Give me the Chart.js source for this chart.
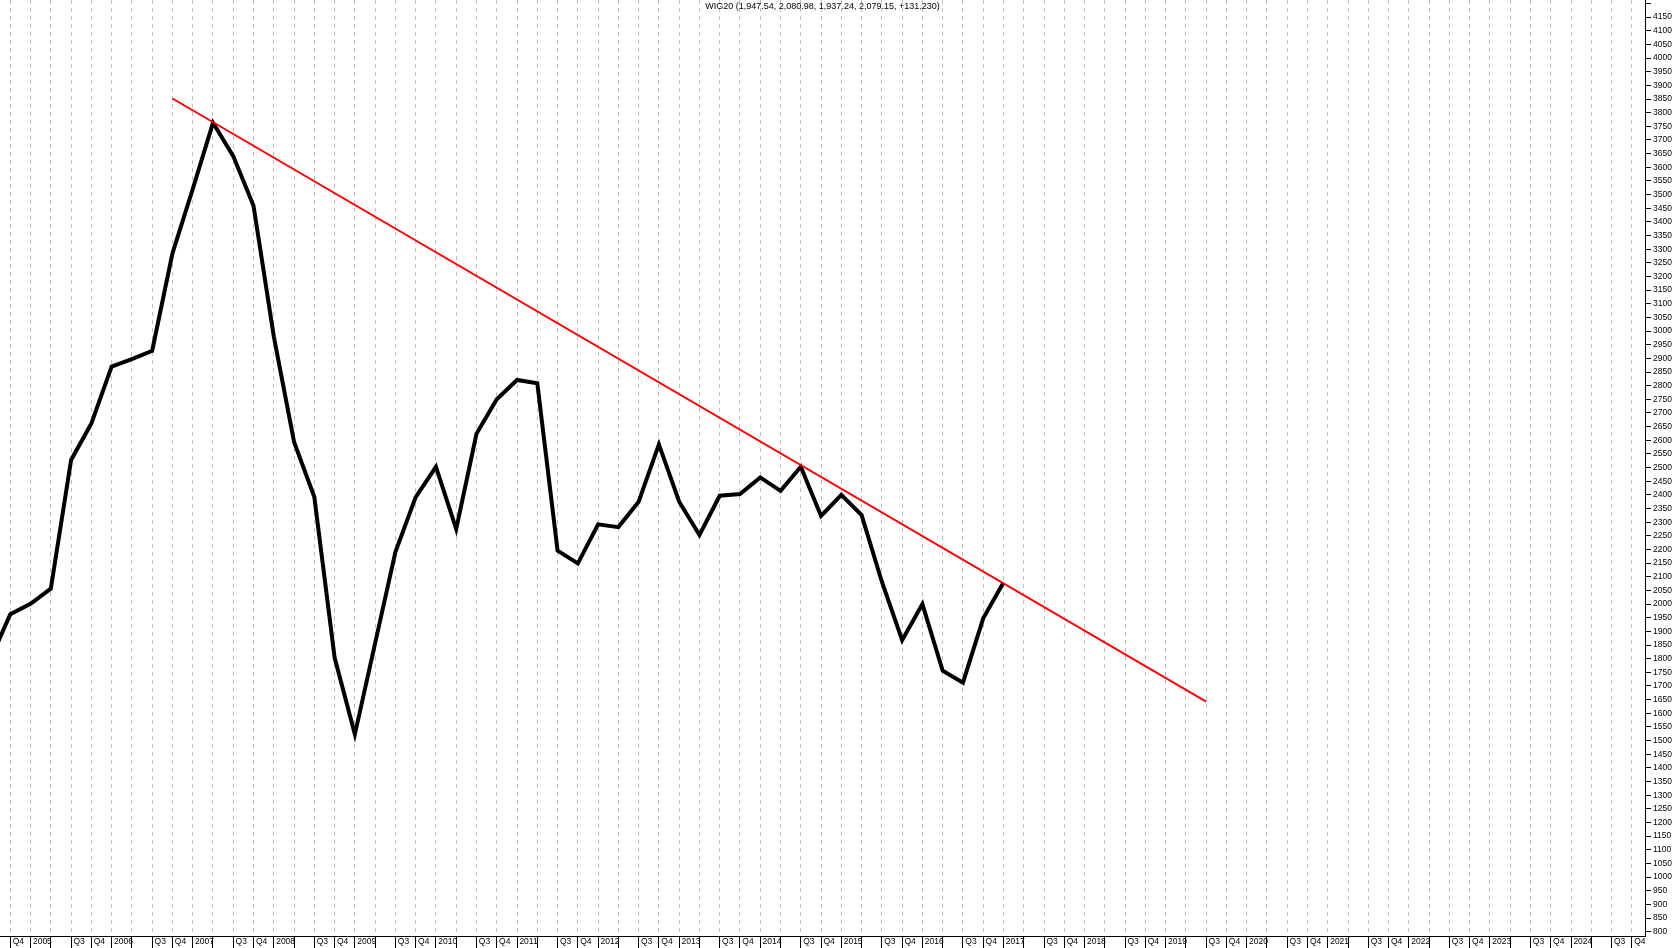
<!DOCTYPE html>
<html>
<head>
<meta charset="utf-8">
<script src="https://cdn.jsdelivr.net/npm/chart.js@4.4.1/dist/chart.umd.min.js"></script>
<style>
  html, body { margin: 0; padding: 0; background: #fff; }
  #wrap { position: relative; width: 1680px; height: 948px; }
  #chart { display: block; }
  #title {
    position: absolute; top: 1px; left: 0; width: 1645px;
    text-align: center; font: 9px "Liberation Sans", Arial, sans-serif;
    line-height: 10px; color: #000; pointer-events: none;
  }
</style>
</head>
<body>
<div id="wrap">
  <canvas id="chart" width="1680" height="948"></canvas>
  <div id="title">WIG20 (1,947.54, 2,080.98, 1,937.24, 2,079.15, +131.230)</div>
</div>
<script>
// ========== Data ==========
// quarter index 0 = Q4 2004 tick, 1 = 2005 tick, ... one step per quarter
const FIRST_QUARTER = -1;
const closes = [
  1795, 1963, 2001, 2057, 2528, 2662, 2870, 2897, 2928, 3285,
  3520, 3763, 3641, 3459, 2981, 2594, 2392, 1804, 1523, 1857,
  2191, 2392, 2503, 2275, 2624, 2750, 2821, 2809, 2196, 2149,
  2292, 2282, 2375, 2585, 2375, 2253, 2397, 2403, 2464, 2415,
  2503, 2323, 2400, 2326, 2082, 1868, 2000, 1756, 1712, 1948,
  2079
];
const trendQuarters = [8, 59];
const trendValues = [3852, 1643];

const years = [2005, 2006, 2007, 2008, 2009, 2010, 2011, 2012, 2013, 2014,
               2015, 2016, 2017, 2018, 2019, 2020, 2021, 2022, 2023, 2024];
const quarterMarks = ['Q4', 'YEAR', '', 'Q3']; // pattern repeating every 4 ticks
const yLabelMin = 800;
const yLabelMax = 4150;

// ========== Helpers ==========
function xLabel(k) {
  const mark = quarterMarks[((k % 4) + 4) % 4];
  if (mark === 'YEAR') {
    const y = years[(k - 1) / 4];
    return y ? ' ' + y : '';
  }
  return mark ? ' ' + mark : '';
}

const closePoints = closes.map((v, i) => ({ x: FIRST_QUARTER + i, y: v }));
const trendPoints = trendQuarters.map((q, i) => ({ x: q, y: trendValues[i] }));

const tickFont = { family: '"Liberation Sans", Arial, sans-serif', size: 8.5 };

new Chart(document.getElementById('chart').getContext('2d'), {
  type: 'line',
  data: {
    datasets: [
      {
        data: trendPoints,
        borderColor: '#ff0000',
        borderWidth: 2,
        pointRadius: 0,
        tension: 0
      },
      {
        data: closePoints,
        borderColor: '#000000',
        borderWidth: 4,
        pointRadius: 0,
        tension: 0
      }
    ]
  },
  options: {
    responsive: false,
    animation: false,
    devicePixelRatio: 1,
    layout: { padding: 0 },
    plugins: {
      legend: { display: false },
      tooltip: { enabled: false },
      title: { display: false }
    },
    scales: {
      x: {
        type: 'linear',
        position: 'bottom',
        min: -0.508,
        max: 80.65,
        grid: {
          color: '#c0c0c0',
          lineWidth: 1,
          tickColor: '#000',
          tickLength: 12,
          tickBorderDash: [],
          drawOnChartArea: true
        },
        border: { display: true, color: '#000', width: 1, dash: [4, 4] },
        ticks: {
          stepSize: 1,
          includeBounds: false,
          autoSkip: false,
          maxRotation: 0,
          minRotation: 0,
          align: 'start',
          padding: -11,
          color: '#000',
          font: tickFont,
          callback: v => xLabel(v)
        },
        afterFit: s => { s.height = 12; s.paddingLeft = 0; s.paddingRight = 0; }
      },
      y: {
        type: 'linear',
        position: 'right',
        min: 784.25,
        max: 4212.8,
        grid: {
          drawOnChartArea: false,
          tickColor: '#000',
          tickLength: 6
        },
        border: { display: true, color: '#000', width: 1 },
        ticks: {
          stepSize: 50,
          includeBounds: false,
          autoSkip: false,
          padding: 2,
          color: '#000',
          font: tickFont,
          callback: v => (v >= yLabelMin && v <= yLabelMax ? String(v) : '')
        },
        afterFit: s => { s.width = 35; s.paddingTop = 0; s.paddingBottom = 0; }
      },
      yMinor: {
        type: 'linear',
        position: 'right',
        min: 784.25,
        max: 4212.8,
        grid: {
          drawOnChartArea: false,
          tickColor: '#000',
          tickLength: 3
        },
        border: { display: false },
        ticks: {
          stepSize: 10,
          includeBounds: false,
          autoSkip: false,
          display: false
        },
        afterFit: s => { s.width = 0; s.paddingTop = 0; s.paddingBottom = 0; }
      }
    }
  }
});
</script>
</body>
</html>
